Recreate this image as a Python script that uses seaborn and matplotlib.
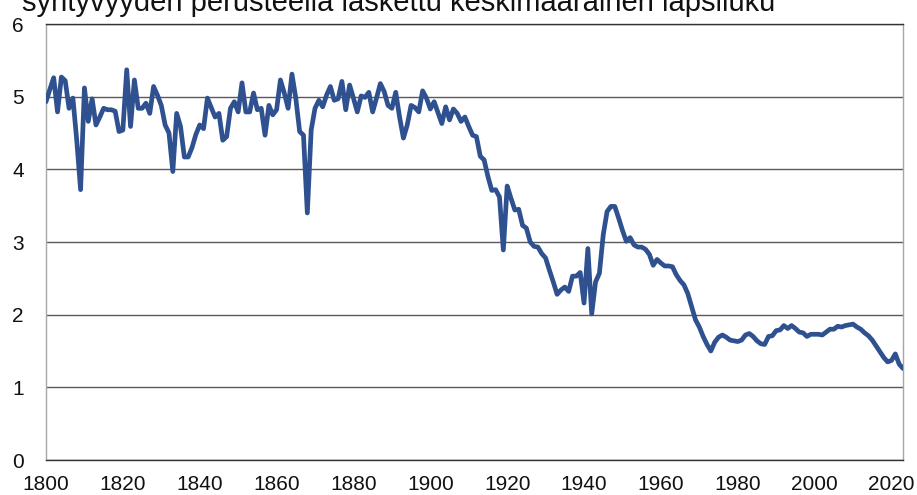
import matplotlib
matplotlib.use("Agg")
import matplotlib.pyplot as plt
import seaborn as sns
import pandas as pd

# Total fertility rate, Finland, 1800-2023
years = list(range(1800, 2024))
tfr_1800s = [
    4.93, 5.10, 5.26, 4.79, 5.27, 5.22, 4.84, 4.98, 4.40, 3.72,
    5.12, 4.66, 4.97, 4.61, 4.72, 4.84, 4.82, 4.82, 4.80, 4.52,
    4.54, 5.37, 4.59, 5.23, 4.84, 4.84, 4.91, 4.77, 5.14, 5.02,
    4.88, 4.61, 4.50, 3.97, 4.77, 4.59, 4.17, 4.17, 4.30, 4.48,
    4.61, 4.56, 4.98, 4.85, 4.72, 4.77, 4.40, 4.45, 4.84, 4.93,
    4.79, 5.19, 4.79, 4.79, 5.05, 4.82, 4.84, 4.47, 4.88, 4.75,
    4.82, 5.23, 5.05, 4.84, 5.31, 4.98, 4.52, 4.47, 3.40, 4.54,
    4.84, 4.95, 4.86, 5.02, 5.14, 4.95, 4.97, 5.21, 4.82, 5.16,
    4.98, 4.79, 5.01, 4.99, 5.06, 4.79, 4.98, 5.18, 5.07, 4.88,
    4.84, 5.06, 4.72, 4.43, 4.61, 4.88, 4.85, 4.79, 5.08, 4.98,
]
tfr_1900s = [
    4.83, 4.93, 4.78, 4.63, 4.86, 4.68, 4.83, 4.77, 4.66, 4.72,
    4.59, 4.47, 4.45, 4.18, 4.13, 3.90, 3.71, 3.72, 3.62, 2.89,
    3.77, 3.60, 3.44, 3.45, 3.23, 3.19, 3.00, 2.94, 2.93, 2.84,
    2.78, 2.61, 2.45, 2.28, 2.34, 2.38, 2.32, 2.53, 2.53, 2.58,
    2.16, 2.91, 2.01, 2.45, 2.57, 3.10, 3.42, 3.49, 3.49, 3.33,
    3.16, 3.01, 3.06, 2.96, 2.93, 2.93, 2.90, 2.83, 2.68, 2.76,
    2.71, 2.67, 2.67, 2.66, 2.55, 2.47, 2.41, 2.29, 2.11, 1.93,
    1.83, 1.70, 1.59, 1.50, 1.62, 1.69, 1.72, 1.69, 1.65, 1.64,
    1.63, 1.65, 1.72, 1.74, 1.70, 1.64, 1.60, 1.59, 1.70, 1.71,
    1.78, 1.79, 1.85, 1.81, 1.85, 1.81, 1.76, 1.75, 1.70, 1.73,
]
tfr_2000s = [
    1.73, 1.73, 1.72, 1.76, 1.80, 1.80, 1.84, 1.83, 1.85, 1.86,
    1.87, 1.83, 1.80, 1.75, 1.71, 1.65, 1.57, 1.49, 1.41, 1.35,
    1.37, 1.46, 1.32, 1.26,
]
tfr = tfr_1800s + tfr_1900s + tfr_2000s

x_ticks = list(range(1800, 2021, 20))
y_ticks = list(range(0, 7))
title = "syntyvyyden perusteella laskettu keskimääräinen lapsiluku"

df = pd.DataFrame({"vuosi": years, "lapsiluku": tfr})

sns.set_style("white")
plt.rcParams["font.family"] = ["Liberation Sans", "DejaVu Sans"]

fig = plt.figure(figsize=(9.17, 4.95), dpi=100)
ax = fig.add_axes([46 / 917, 1 - 460 / 495, (903 - 46) / 917, (460 - 24) / 495])

sns.lineplot(data=df, x="vuosi", y="lapsiluku", ax=ax, color="#2f5190",
             linewidth=3.4, zorder=3)

ax.set_xlim(1800, 2023)
ax.set_ylim(0, 6)
ax.set_xticks(x_ticks)
ax.set_yticks(y_ticks)
ax.set_xlabel("")
ax.set_ylabel("")
ax.tick_params(axis="both", length=0, labelsize=15, colors="#111111")
ax.tick_params(axis="y", pad=16)
ax.tick_params(axis="x", pad=11)

ax.grid(True, axis="y", color="#5a5a5a", linewidth=1.0)
ax.grid(False, axis="x")
ax.set_axisbelow(True)
for side in ["left", "right"]:
    ax.spines[side].set_color("#a6a6a6")
    ax.spines[side].set_linewidth(1.0)
for side in ["top", "bottom"]:
    ax.spines[side].set_color("#333333")
    ax.spines[side].set_linewidth(1.0)

# the title sits partly above the top edge, as in the source image
fig.text(22 / 917, 1 - 11 / 495, title, fontsize=21, color="#111111",
         ha="left", va="baseline")

fig.savefig("out.png", dpi=100)
